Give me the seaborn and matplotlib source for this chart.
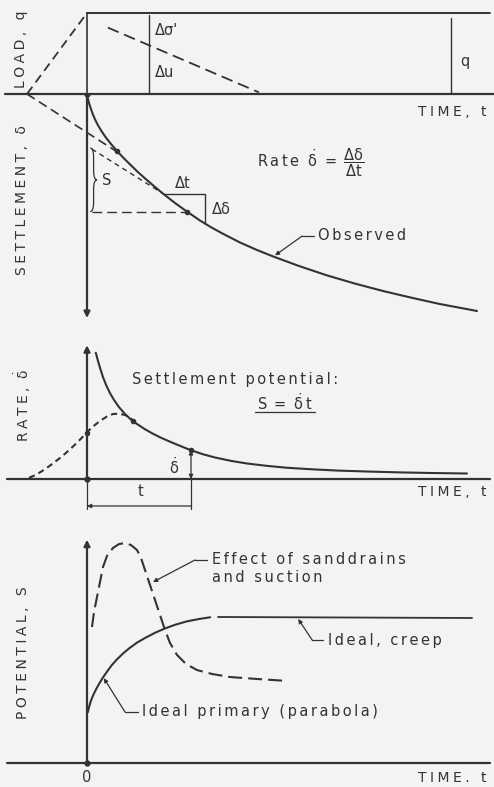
import numpy as np
import pandas as pd
import matplotlib
matplotlib.use("Agg")
import matplotlib.pyplot as plt
from matplotlib.path import Path
from matplotlib.patches import PathPatch
import seaborn as sns

# Eixo do tempo comum aos quatro painéis
t_min, t_max = -2.175, 10.175

# Carga, q
ramp_t = [-1.5, 0.0]
ramp_q = [0.0, 1.0]
load_t = [0.0, 10.08]
load_q = [1.0, 1.0]
du_t = [0.52, 4.3]
du_q = [0.82, 0.02]
split_t = 1.55
qmark_t = 9.1
qmark_top = 0.94

# Recalque observado, delta
obs_t = [0, 0.02, 0.05, 0.09, 0.14, 0.2, 0.28, 0.37, 0.47, 0.6, 0.75, 0.9,
         1.05, 1.25, 1.45, 1.7, 1.9, 2.2, 2.5, 2.82, 3.1, 3.4, 3.82, 4.25,
         4.65, 5.3, 6.0, 6.7, 7.4, 8.1, 8.82, 9.75]
obs_d = [0, 0.2, 0.45, 0.7, 0.98, 1.27, 1.58, 1.88, 2.17, 2.5, 2.85, 3.17,
         3.47, 3.86, 4.22, 4.65, 4.98, 5.45, 5.88, 6.32, 6.66, 6.99, 7.42, 7.8,
         8.12, 8.6, 9.07, 9.48, 9.85, 10.18, 10.5, 10.85]
ext_t = [-1.5, 0.82]
ext_d = [0.0, 2.98]
tan_t = [0.12, 1.9]
tan_d = [2.75, 4.98]
p_t, p_d = 2.5, 5.88
tri_t = [1.9, 2.95, 2.95]
tri_d = [4.98, 4.98, 6.48]
s_top = 2.7

# Velocidade de recalque
rate_t = [0.22, 0.27, 0.33, 0.4, 0.48, 0.57, 0.68, 0.8, 0.95, 1.1, 1.25, 1.45,
          1.65, 1.85, 2.1, 2.35, 2.6, 2.9, 3.2, 3.6, 4.0, 4.5, 5.0, 5.6, 6.3,
          7.0, 7.8, 8.6, 9.5]
rate_r = [10.1, 9.5, 8.85, 8.15, 7.5, 6.9, 6.3, 5.75, 5.2, 4.75, 4.4, 3.98,
          3.62, 3.3, 2.95, 2.62, 2.3, 1.98, 1.72, 1.45, 1.24, 1.05, 0.9, 0.78,
          0.67, 0.6, 0.53, 0.48, 0.44]
rdash_t = [-1.45, -1.3, -1.15, -1.0, -0.85, -0.7, -0.55, -0.4, -0.25, -0.1,
           0.05, 0.2, 0.35, 0.5, 0.65, 0.8, 0.95, 1.05, 1.15, 1.25]
rdash_r = [0.1, 0.3, 0.58, 0.9, 1.25, 1.62, 2.02, 2.45, 2.9, 3.4, 3.9, 4.33,
           4.7, 5.0, 5.2, 5.22, 5.12, 4.95, 4.7, 4.43]
rp_t, rp_r = 2.6, 2.3

# Potencial, S
prim_t = [0.02, 0.06, 0.1, 0.15, 0.22, 0.3, 0.4, 0.5, 0.62, 0.75, 0.9, 1.05,
          1.25, 1.45, 1.7, 1.95, 2.2, 2.5, 2.8, 3.08]
prim_s = [3.5, 3.95, 4.3, 4.65, 5.05, 5.45, 5.9, 6.3, 6.75, 7.15, 7.55, 7.9,
          8.3, 8.62, 8.98, 9.28, 9.53, 9.77, 9.93, 10.05]
creep_t = [3.275, 9.625]
creep_s = [10.07, 10.0]
sd_t = [0.125, 0.175, 0.25, 0.325, 0.4, 0.5, 0.65, 0.8, 0.95, 1.1, 1.25, 1.35,
        1.45, 1.575, 1.7, 1.825, 1.95, 2.075, 2.25, 2.475, 2.75, 3.125, 3.575,
        4.275, 5.0]
sd_s = [9.38, 10.41, 11.45, 12.48, 13.52, 14.28, 14.83, 15.1, 15.17, 15.03,
        14.69, 14.14, 13.31, 12.28, 11.24, 10.21, 9.17, 8.28, 7.45, 6.83, 6.41,
        6.14, 5.93, 5.79, 5.66]

obs = pd.DataFrame({"t": obs_t, "d": obs_d})
rate = pd.DataFrame({"t": rate_t, "r": rate_r})
rdash = pd.DataFrame({"t": rdash_t, "r": rdash_r})
prim = pd.DataFrame({"t": prim_t, "s": prim_s})
sd = pd.DataFrame({"t": sd_t, "s": sd_s})

sns.set_theme(style="white")
plt.rcParams["font.family"] = ["DejaVu Sans"]
plt.rcParams["mathtext.fontset"] = "dejavusans"
plt.rcParams["mathtext.default"] = "regular"

ink = "#333333"
bg = "#f3f3f1"
fs = 10.5      # texto corrido
fc = 10        # rótulos dos eixos (maiúsculas)
H = 787.0


def spaced(s, gap="\u2006"):
    # letras espaçadas como no desenho original
    return gap.join(s)


def caps(s):
    return spaced(s, "\u2005")


def painel(top, bottom, ylim):
    ax = fig.add_axes([0, 1 - bottom / H, 1, (bottom - top) / H])
    ax.set_xlim(t_min, t_max)
    ax.set_ylim(*ylim)
    ax.set_axis_off()
    return ax


def seta(ax, tip, tail, lw=1.0, ms=7):
    ax.annotate("", xy=tip, xytext=tail,
                arrowprops=dict(arrowstyle="-|>", color=ink, lw=lw,
                                mutation_scale=ms, shrinkA=0, shrinkB=0),
                annotation_clip=False)


def chave(ax, x, y0, y1, w):
    ym = (y0 + y1) / 2
    h = ym - y0
    v = [(x, y0), (x + w / 2, y0), (x + w / 2, y0 + 0.3 * h),
         (x + w / 2, ym - 0.3 * h),
         (x + w / 2, ym), (x + w, ym),
         (x + w / 2, ym), (x + w / 2, ym + 0.3 * h),
         (x + w / 2, y1 - 0.3 * h),
         (x + w / 2, y1), (x, y1)]
    c = [Path.MOVETO, Path.CURVE3, Path.CURVE3, Path.LINETO, Path.CURVE3,
         Path.CURVE3, Path.CURVE3, Path.CURVE3, Path.LINETO, Path.CURVE3,
         Path.CURVE3]
    ax.add_patch(PathPatch(Path(v, c), fill=False, color=ink, lw=0.9))


fig = plt.figure(figsize=(4.94, 7.87), dpi=100, facecolor=bg)

# ---------- Carga ----------
ax1 = painel(0, 94, (0, 94 / 81))
ax1.plot([-2.05, t_max], [0, 0], color=ink, lw=1.6, clip_on=False)
ax1.plot(ramp_t, ramp_q, color=ink, lw=1.3, linestyle=(0, (5, 3)))
ax1.plot(load_t, load_q, color=ink, lw=1.4)
ax1.plot([0, 0], [0, 1], color=ink, lw=1.2)
ax1.plot([split_t, split_t], [0, 0.975], color=ink, lw=1.0)
ax1.plot([qmark_t, qmark_t], [0, qmark_top], color=ink, lw=1.0)
ax1.plot(du_t, du_q, color=ink, lw=1.3, linestyle=(0, (6.5, 3.3)))
ax1.text(1.7, 0.79, "Δσ'", fontsize=fs, color=ink, va="center")
ax1.text(1.7, 0.27, "Δu", fontsize=fs, color=ink, va="center")
ax1.text(9.33, 0.4, "q", fontsize=fs, color=ink, va="center")
ax1.text(-1.65, 0.55, caps("LOAD, q"), fontsize=fc, color=ink,
         rotation=90, ha="center", va="center")
ax1.text(10.0, -0.22, caps("TIME, t"), fontsize=fc, color=ink,
         ha="right", va="center")

# ---------- Recalque ----------
ax2 = painel(94, 325, (231 / 20, 0))
seta(ax2, (0, 11.2), (0, 0), lw=1.6, ms=9)
sns.lineplot(data=obs, x="t", y="d", ax=ax2, color=ink, lw=1.5,
             sort=False, estimator=None)
ax2.plot(ext_t, ext_d, color=ink, lw=1.2, linestyle=(0, (5.5, 3)))
ax2.plot(tan_t, tan_d, color=ink, lw=1.0, linestyle=(0, (3.6, 2.9)))
ax2.plot([0.12, p_t], [p_d, p_d], color=ink, lw=1.0, linestyle=(0, (7, 3.6)))
ax2.plot(tri_t, tri_d, color=ink, lw=1.0)
ax2.plot([0.75, p_t], [2.85, p_d], "o", color=ink, ms=3)
chave(ax2, 0.08, s_top, p_d, 0.17)
ax2.text(0.38, 4.3, "S", fontsize=fs, color=ink, va="center")
ax2.text(4.25, 3.45,
         spaced("Rate") + "  " + r"$\dot{\delta}\ =\ \dfrac{\Delta\delta}{\Delta t}$",
         fontsize=fs, color=ink, va="center")
ax2.text(2.4, 4.45, "Δt", fontsize=fs, color=ink, ha="center", va="center")
ax2.text(3.12, 5.8, "Δδ", fontsize=fs, color=ink, va="center")
ax2.text(5.78, 7.1, spaced("Observed"), fontsize=fs, color=ink, va="center")
ax2.plot([5.68, 5.38], [7.1, 7.1], color=ink, lw=0.9)
seta(ax2, (4.7, 8.07), (5.38, 7.1), lw=0.9, ms=6)
ax2.text(-1.62, 5.3, caps("SETTLEMENT, δ"), fontsize=fc, color=ink,
         rotation=90, ha="center", va="center")
ax2.plot([0], [0], "o", color=ink, ms=3.5)

# ---------- Velocidade ----------
ax3 = painel(335, 479, (0, 144 / 12.5))
ax3.plot([-2.0, 10.08], [0, 0], color=ink, lw=1.6, clip_on=False)
seta(ax3, (0, 10.7), (0, 0), lw=1.6, ms=9)
sns.lineplot(data=rate, x="t", y="r", ax=ax3, color=ink, lw=1.5,
             sort=False, estimator=None)
sns.lineplot(data=rdash, x="t", y="r", ax=ax3, color=ink, lw=1.5,
             sort=False, estimator=None, linestyle=(0, (3, 2)))
ax3.plot([0, 1.15, rp_t], [3.65, 4.68, rp_r], "o", color=ink, ms=3)
ax3.annotate("", xy=(rp_t, 0), xytext=(rp_t, rp_r),
             arrowprops=dict(arrowstyle="<|-|>", color=ink, lw=0.9,
                             mutation_scale=6, shrinkA=0, shrinkB=0))
ax3.text(2.05, 0.96, r"$\dot{\delta}$", fontsize=fs, color=ink, va="center")
ax3.text(1.12, 7.92, spaced("Settlement potential:"), fontsize=fs, color=ink,
         va="center")
ax3.text(4.25, 6.1, r"$S\ =\ \dot{\delta}\,t$", fontsize=fs,
         color=ink, va="center")
ax3.plot([4.2, 5.7], [5.36, 5.36], color=ink, lw=0.9)
ax3.text(-1.6, 5.9, caps("RATE,") + "  " + r"$\dot{\delta}$", fontsize=fc,
         color=ink, rotation=90, ha="center", va="center")
# cota do tempo t
ax3.plot([0, 0], [0, -2.4], color=ink, lw=0.9, clip_on=False)
ax3.plot([rp_t, rp_t], [0, -2.4], color=ink, lw=0.9, clip_on=False)
seta(ax3, (0, -2.16), (rp_t, -2.16), lw=0.9, ms=6)
ax3.text(1.33, -1.04, "t", fontsize=fs, color=ink, ha="center", va="center")
ax3.text(10.0, -1.04, caps("TIME, t"), fontsize=fc, color=ink,
         ha="right", va="center")
ax3.plot([0], [0], "o", color=ink, ms=3.5, clip_on=False)

# ---------- Potencial ----------
ax4 = painel(530, 763, (0, 233 / 14.5))
ax4.plot([-2.0, 10.08], [0, 0], color=ink, lw=1.6, clip_on=False)
seta(ax4, (0, 15.4), (0, 0), lw=1.6, ms=9)
sns.lineplot(data=prim, x="t", y="s", ax=ax4, color=ink, lw=1.5,
             sort=False, estimator=None)
ax4.plot(creep_t, creep_s, color=ink, lw=1.3)
sns.lineplot(data=sd, x="t", y="s", ax=ax4, color=ink, lw=1.5,
             sort=False, estimator=None, linestyle=(0, (6.7, 2.9)))
ax4.text(3.12, 14.0, spaced("Effect of sanddrains"), fontsize=fs, color=ink,
         va="center")
ax4.text(3.12, 12.76, spaced("and suction"), fontsize=fs, color=ink,
         va="center")
ax4.plot([3.0, 2.7], [14.0, 14.0], color=ink, lw=0.9)
seta(ax4, (1.65, 12.48), (2.7, 14.0), lw=0.9, ms=6)
ax4.text(6.03, 8.48, spaced("Ideal, creep"), fontsize=fs, color=ink,
         va="center")
ax4.plot([5.9, 5.63], [8.48, 8.48], color=ink, lw=0.9)
seta(ax4, (5.28, 9.93), (5.63, 8.48), lw=0.9, ms=6)
ax4.text(1.38, 3.52, spaced("Ideal primary (parabola)"), fontsize=fs,
         color=ink, va="center")
ax4.plot([1.28, 0.95], [3.52, 3.52], color=ink, lw=0.9)
seta(ax4, (0.42, 5.85), (0.95, 3.52), lw=0.9, ms=6)
ax4.text(-1.6, 7.6, caps("POTENTIAL, S"), fontsize=fc, color=ink,
         rotation=90, ha="center", va="center")
ax4.text(0, -1.03, "0", fontsize=fs, color=ink, ha="center", va="center")
ax4.text(10.0, -1.03, caps("TIME. t"), fontsize=fc, color=ink,
         ha="right", va="center")
ax4.plot([0], [0], "o", color=ink, ms=3.5, clip_on=False)

fig.savefig("out.png", dpi=100, facecolor=bg)
